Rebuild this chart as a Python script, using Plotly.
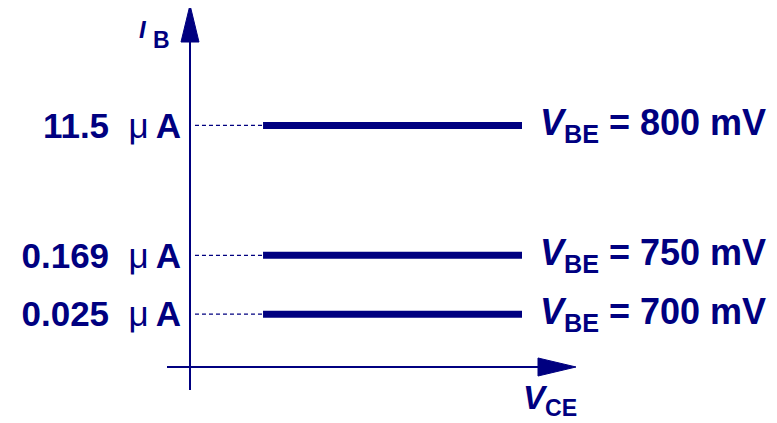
import math
import plotly.graph_objects as go

# base current for each V_BE (uA), schematic I_B vs V_CE
current_labels = ["11.5", "0.169", "0.025"]
currents_ua = [11.5, 0.169, 0.025]
vbe_mv = [800, 750, 700]

# V_CE span of the flat lines (arbitrary units, schematic)
vce_start = 0.22
vce_end = 1.0

NAVY = "#000080"
FONT = "Liberation Sans, Arial, sans-serif"

# page puts the figure 8px in from the top-left corner
OFF = 8
W, H = 777 - OFF, 423 - OFF
AX = 190  # window pixel of the vertical axis
ML = AX - OFF


def px(xp):
    return (xp - AX) / (W - ML)


def py(yp):
    return 1 - (yp - OFF) / H


fig = go.Figure()

for cur in currents_ua:
    # dashed leader from the axis
    fig.add_trace(go.Scatter(
        x=[0.015, vce_start], y=[cur, cur], mode="lines",
        line=dict(color=NAVY, width=1.2, dash="4px,3px"),
        hoverinfo="skip", showlegend=False,
    ))
    fig.add_trace(go.Scatter(
        x=[vce_start, vce_end], y=[cur, cur], mode="lines",
        line=dict(color=NAVY, width=7),
        hoverinfo="skip", showlegend=False,
    ))

annotations = []
for cur, v in zip(currents_ua, vbe_mv):
    annotations.append(dict(
        x=vce_end, y=math.log10(cur), xref="x", yref="y",
        text="<b><i>V</i><sub>BE</sub>\u00a0=\u00a0%d\u00a0mV</b>" % v,
        showarrow=False, xanchor="left", yanchor="middle",
        xshift=16, yshift=0,
        font=dict(family=FONT, size=36, color=NAVY),
    ))

# axis titles
annotations += [
    dict(x=px(149), y=py(30), xref="paper", yref="paper",
         text="<b><i>I</i></b>", showarrow=False,
         xanchor="right", yanchor="middle",
         font=dict(family=FONT, size=24, color=NAVY)),
    dict(x=px(151), y=py(40), xref="paper", yref="paper",
         text="<b>B</b>", showarrow=False,
         xanchor="left", yanchor="middle",
         font=dict(family=FONT, size=23, color=NAVY)),
    dict(x=px(521), y=py(377), xref="paper", yref="paper",
         text="<b><i>V</i><sub>CE</sub></b>", showarrow=False,
         xanchor="left", yanchor="top",
         font=dict(family=FONT, size=33, color=NAVY)),
]

shapes = [
    # vertical axis + arrowhead
    dict(type="line", xref="paper", yref="paper",
         x0=px(190), x1=px(190), y0=py(390), y1=py(40),
         line=dict(color=NAVY, width=2)),
    dict(type="path", xref="paper", yref="paper",
         path="M %f %f L %f %f L %f %f Z" % (px(190), py(5), px(181), py(42), px(199), py(42)),
         fillcolor=NAVY, line=dict(color=NAVY, width=1)),
    # horizontal axis + arrowhead
    dict(type="line", xref="paper", yref="paper",
         x0=px(167), x1=px(540), y0=py(367), y1=py(367),
         line=dict(color=NAVY, width=2)),
    dict(type="path", xref="paper", yref="paper",
         path="M %f %f L %f %f L %f %f Z" % (px(576), py(367), px(538), py(358), px(538), py(376)),
         fillcolor=NAVY, line=dict(color=NAVY, width=1)),
]

# log axis: window y = 200.6 - 70.9*log10(I)
y_top = (200.6 - OFF) / 70.9
y_bot = y_top - H / 70.9

fig.update_layout(
    width=W, height=H,
    margin=dict(l=ML, r=0, t=0, b=0),
    paper_bgcolor="white", plot_bgcolor="white",
    showlegend=False,
    annotations=annotations,
    shapes=shapes,
    xaxis=dict(visible=False, range=[0, (W - ML) / 332]),
    yaxis=dict(
        type="log", range=[y_bot, y_top],
        showgrid=False, zeroline=False, showline=False,
        ticks="", ticklabelstandoff=8,
        tickvals=currents_ua,
        ticktext=["<b>%s</b>\u00a0\u00a0μ\u2009<b>A</b>" % t for t in current_labels],
        tickfont=dict(family=FONT, size=35, color=NAVY),
    ),
)

fig.write_html("out.html")
